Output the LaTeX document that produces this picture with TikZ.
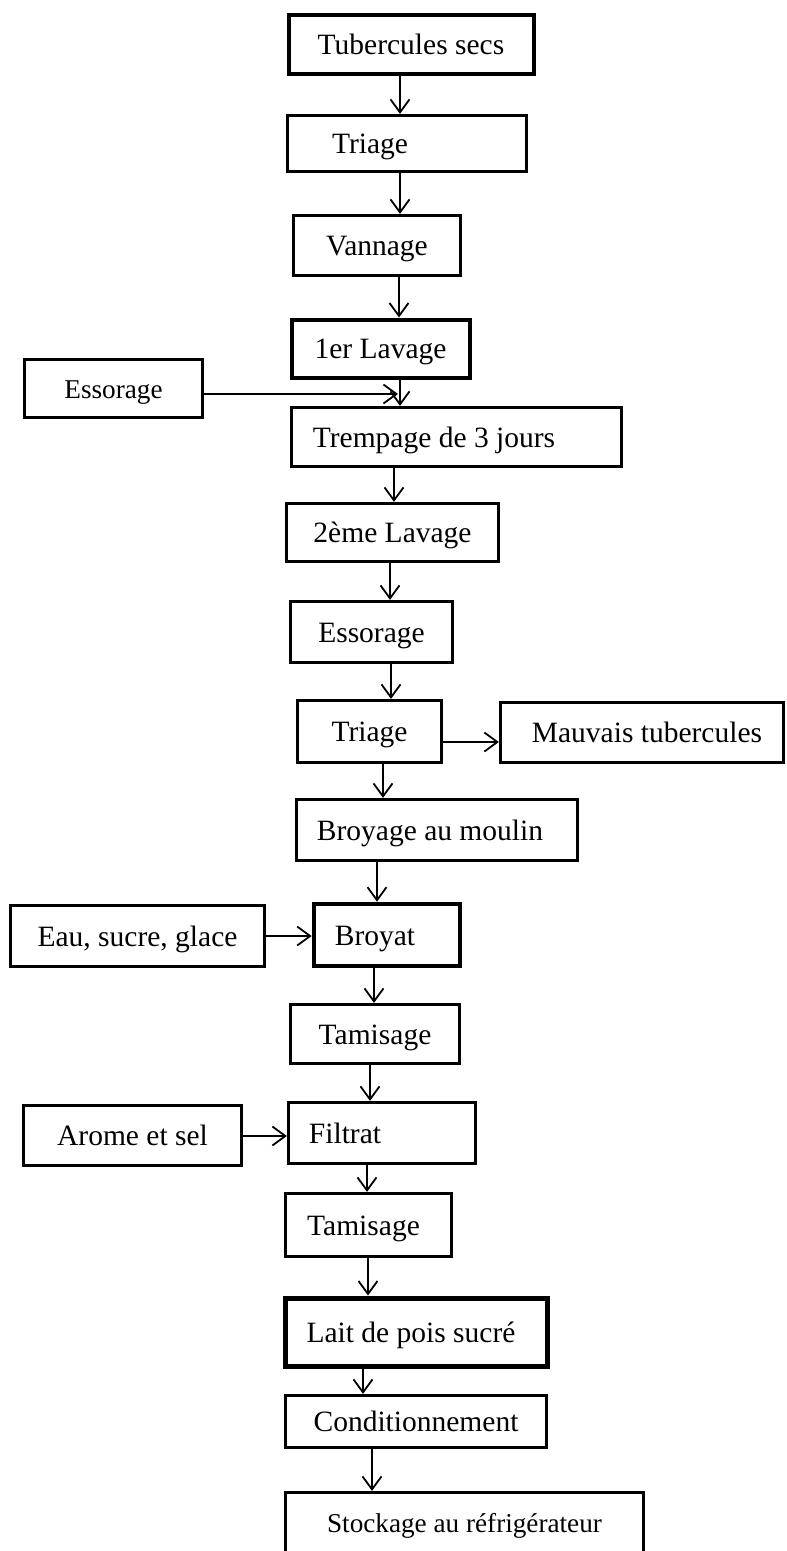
\documentclass[tikz,border=0pt]{standalone}
\usepackage{fontspec}
\setmainfont{Liberation Serif}
\usetikzlibrary{arrows.meta}
\begin{document}
\begin{tikzpicture}[x=1pt,y=-1pt,
  box/.style={draw, line width=3.2pt, rectangle, inner sep=0pt,
    text height=20pt, text depth=0pt, font=\fontsize{29.5}{34}\selectfont},
  thickbox/.style={box, line width=4.6pt},
  smallfont/.style={font=\fontsize{27.2}{32}\selectfont},
  arr/.style={line width=1.8pt, -{Straight Barb[length=13pt,width=19pt,line width=1.8pt]}}]
\useasboundingbox (0,0) rectangle (787,1551);
\clip (0,0) rectangle (787,1551);
\fill[white] (0,0) rectangle (787,1551);

% main column
\node[box, line width=4pt, minimum width=245pt, minimum height=59pt] (tub) at (411,44) {Tubercules secs};
\node[box, minimum width=239pt, minimum height=56pt] (tri1) at (407,143.5) {Triage\hspace*{74pt}};
\node[box, minimum width=167pt, minimum height=60pt] (van) at (377,245.5) {Vannage};
\node[box, line width=4pt, minimum width=178pt, minimum height=58pt] (lav1) at (380.5,348.5) {1er Lavage};
\node[box, smallfont, minimum width=178pt, minimum height=58pt] (ess1) at (113.5,388.5) {Essorage};
\node[box, minimum width=330pt, minimum height=59pt] (tre) at (456.5,437) {Trempage de 3 jours\hspace*{45pt}};
\node[box, minimum width=212pt, minimum height=58pt] (lav2) at (392.5,532.5) {2ème Lavage};
\node[box, minimum width=162pt, minimum height=61pt] (ess2) at (371.5,632) {Essorage};
\node[box, minimum width=144pt, minimum height=62pt] (tri2) at (369.5,731.5) {Triage};
\node[box, minimum width=283pt, minimum height=60pt] (mau) at (642,732.5) {\hspace*{10pt}Mauvais tubercules};
\node[box, minimum width=281pt, minimum height=61pt] (bro) at (437,830) {Broyage au moulin\hspace*{14pt}};
\node[box, minimum width=254pt, minimum height=61pt] (eau) at (137.5,936) {Eau, sucre, glace};
\node[thickbox, minimum width=146pt, minimum height=62pt] (byt) at (387,935) {Broyat\hspace*{24pt}};
\node[box, minimum width=169pt, minimum height=59pt] (tam1) at (375,1034) {Tamisage};
\node[box, minimum width=218pt, minimum height=60pt] (aro) at (132.5,1135.5) {Arome et sel};
\node[box, minimum width=187pt, minimum height=61pt] (fil) at (382,1133) {Filtrat\hspace*{74pt}};
\node[box, minimum width=166pt, minimum height=63pt] (tam2) at (368.5,1225) {Tamisage\hspace*{10pt}};
\node[thickbox, line width=5pt, minimum width=262pt, minimum height=68pt] (lai) at (416,1332) {Lait de pois sucré\hspace*{10pt}};
\node[box, minimum width=261pt, minimum height=52pt] (con) at (416,1421.5) {Conditionnement};
\node[box, smallfont, minimum width=358pt, minimum height=60pt] (sto) at (464.5,1522.5) {Stockage au réfrigérateur};

% x positions of the vertical connectors
\coordinate (xa) at (400,0);
\coordinate (xb) at (399,0);
\coordinate (xc) at (394,0);
\coordinate (xd) at (390,0);
\coordinate (xe) at (391,0);
\coordinate (xf) at (383,0);
\coordinate (xg) at (377,0);
\coordinate (xh) at (374,0);
\coordinate (xi) at (370,0);
\coordinate (xj) at (367,0);
\coordinate (xk) at (368,0);
\coordinate (xl) at (363,0);
\coordinate (xm) at (372,0);

\draw[arr] (tub.south -| xa) -- (tri1.north -| xa);
\draw[arr] (tri1.south -| xa) -- (van.north -| xa);
\draw[arr] (van.south -| xb) -- (lav1.north -| xb);
\draw[arr] (lav1.south -| xa) -- (tre.north -| xa);
\draw[arr] (tre.south -| xc) -- (lav2.north -| xc);
\draw[arr] (lav2.south -| xd) -- (ess2.north -| xd);
\draw[arr] (ess2.south -| xe) -- (tri2.north -| xe);
\draw[arr] (tri2.south -| xf) -- (bro.north -| xf);
\draw[arr] (bro.south -| xg) -- (byt.north -| xg);
\draw[arr] (byt.south -| xh) -- (tam1.north -| xh);
\draw[arr] (tam1.south -| xi) -- (fil.north -| xi);
\draw[arr] (fil.south -| xj) -- (tam2.north -| xj);
\draw[arr] (tam2.south -| xk) -- (lai.north -| xk);
\draw[arr] (lai.south -| xl) -- (con.north -| xl);
\draw[arr] (con.south -| xm) -- (sto.north -| xm);

% side connectors
\coordinate (j1) at (398,394);
\draw[arr] (ess1.east |- j1) -- (j1);
\coordinate (y1) at (0,742);
\draw[arr] (tri2.east |- y1) -- (mau.west |- y1);
\coordinate (y2) at (0,936);
\draw[arr] (eau.east |- y2) -- (byt.west |- y2);
\coordinate (y3) at (0,1136);
\draw[arr] (aro.east |- y3) -- (fil.west |- y3);
\end{tikzpicture}
\end{document}
